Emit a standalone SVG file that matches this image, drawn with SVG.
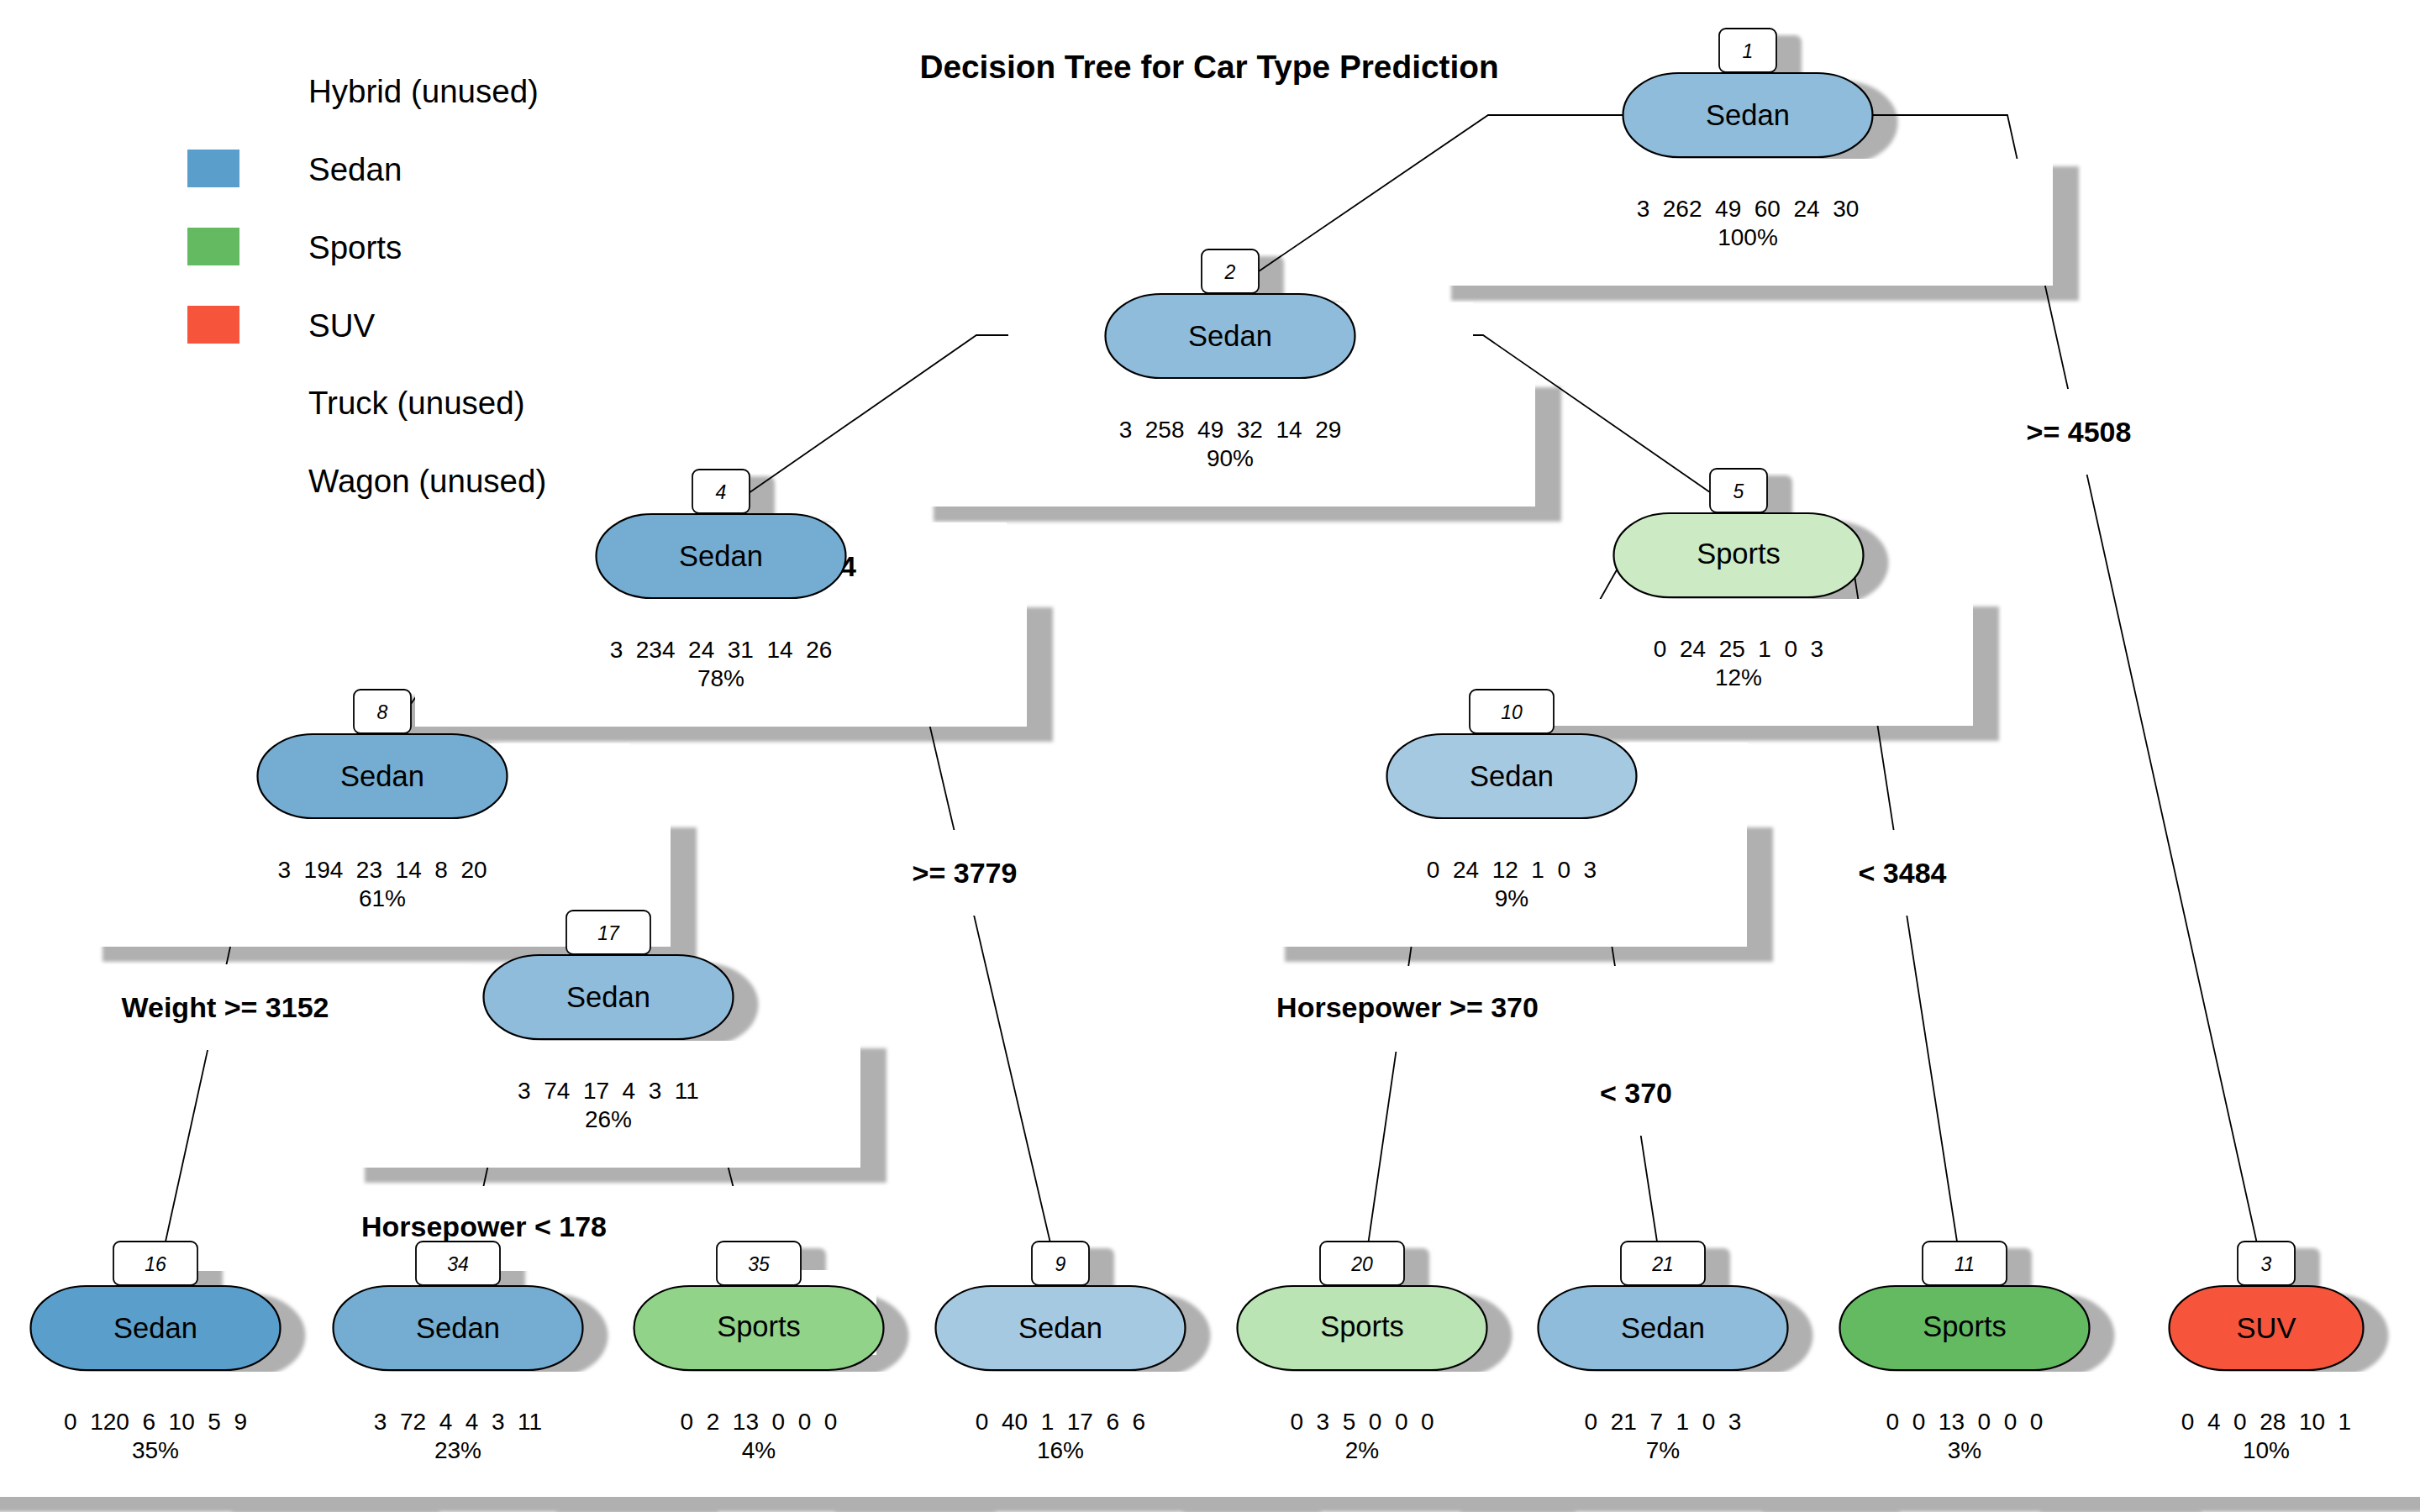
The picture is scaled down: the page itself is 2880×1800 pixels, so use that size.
<svg xmlns="http://www.w3.org/2000/svg" width="2880" height="1800" viewBox="0 0 2880 1800">
<defs>
<filter id="blur" x="-5%" y="-5%" width="110%" height="115%"><feGaussianBlur stdDeviation="2.2"/></filter>
<style>
text{font-family:"Liberation Sans",Arial,Helvetica,sans-serif;fill:#000}
.pill{stroke:#000;stroke-width:2.2}
.nbox{fill:#fff;stroke:#000;stroke-width:1.8}
.sh{fill:#b0b0b0;filter:url(#blur)}
.wb{fill:#fff}
.cn{fill:none;stroke:#000;stroke-width:1.8}
.lbl{font-size:34.5px;text-anchor:middle}
.num{font-size:23px;font-style:italic;text-anchor:middle}
.st{font-size:28px;text-anchor:middle;white-space:pre}
.sp{font-size:34px;font-weight:bold;text-anchor:middle}
.lg{font-size:38.5px}
.title{font-size:38.8px;font-weight:bold;text-anchor:middle}
</style>
</defs>
<rect x="0" y="0" width="2880" height="1800" fill="#fff"/>

<text class="title" x="1439" y="93">Decision Tree for Car Type Prediction</text>

<g id="legend">
<text class="lg" x="367" y="122">Hybrid (unused)</text>
<rect x="223" y="178" width="62" height="45" fill="#5A9FCB"/>
<text class="lg" x="367" y="215">Sedan</text>
<rect x="223" y="271" width="62" height="45" fill="#63BA61"/>
<text class="lg" x="367" y="308">Sports</text>
<rect x="223" y="364" width="62" height="45" fill="#F6553C"/>
<text class="lg" x="367" y="401">SUV</text>
<text class="lg" x="367" y="493">Truck (unused)</text>
<text class="lg" x="367" y="586">Wagon (unused)</text>
</g>

<g id="shadows">
<rect class="sh" x="1961.5" y="96" width="297" height="100" rx="66" ry="50"/>
<rect class="sh" x="2076" y="42" width="68" height="52" rx="8"/>
<rect class="sh" x="1345.5" y="359" width="297" height="100" rx="66" ry="50"/>
<rect class="sh" x="1460" y="305" width="68" height="52" rx="8"/>
<rect class="sh" x="739.5" y="621" width="297" height="100" rx="66" ry="50"/>
<rect class="sh" x="854" y="567" width="68" height="52" rx="8"/>
<rect class="sh" x="1950.5" y="620" width="297" height="100" rx="66" ry="50"/>
<rect class="sh" x="2065" y="566" width="68" height="52" rx="8"/>
<rect class="sh" x="336.5" y="883" width="297" height="100" rx="66" ry="50"/>
<rect class="sh" x="451" y="829" width="68" height="52" rx="8"/>
<rect class="sh" x="1680.5" y="883" width="297" height="100" rx="66" ry="50"/>
<rect class="sh" x="1779" y="829" width="100" height="52" rx="8"/>
<rect class="sh" x="605.5" y="1146" width="297" height="100" rx="66" ry="50"/>
<rect class="sh" x="704" y="1092" width="100" height="52" rx="8"/>
<rect class="sh" x="66.5" y="1540" width="297" height="100" rx="66" ry="50"/>
<rect class="sh" x="165" y="1486" width="100" height="52" rx="8"/>
<rect class="sh" x="426.5" y="1540" width="297" height="100" rx="66" ry="50"/>
<rect class="sh" x="525" y="1486" width="100" height="52" rx="8"/>
<rect class="sh" x="784.5" y="1540" width="297" height="100" rx="66" ry="50"/>
<rect class="sh" x="883" y="1486" width="100" height="52" rx="8"/>
<rect class="sh" x="1143.5" y="1540" width="297" height="100" rx="66" ry="50"/>
<rect class="sh" x="1258" y="1486" width="68" height="52" rx="8"/>
<rect class="sh" x="1502.5" y="1540" width="297" height="100" rx="66" ry="50"/>
<rect class="sh" x="1601" y="1486" width="100" height="52" rx="8"/>
<rect class="sh" x="1860.5" y="1540" width="297" height="100" rx="66" ry="50"/>
<rect class="sh" x="1959" y="1486" width="100" height="52" rx="8"/>
<rect class="sh" x="2219.5" y="1540" width="297" height="100" rx="66" ry="50"/>
<rect class="sh" x="2318" y="1486" width="100" height="52" rx="8"/>
<rect class="sh" x="2611.5" y="1540" width="231" height="100" rx="66" ry="50"/>
<rect class="sh" x="2693" y="1486" width="68" height="52" rx="8"/>
<rect class="sh" x="1727" y="198" width="747" height="160"/>
<rect class="sh" x="1111" y="461" width="747" height="160"/>
<rect class="sh" x="504" y="723" width="749" height="160"/>
<rect class="sh" x="1800" y="722" width="579" height="160"/>
<rect class="sh" x="122" y="985" width="707" height="160"/>
<rect class="sh" x="1529" y="985" width="581" height="160"/>
<rect class="sh" x="434" y="1248" width="621" height="160"/>
<rect class="sh" x="-112" y="1642" width="635" height="158"/>
<rect class="sh" x="276" y="1642" width="579" height="158"/>
<rect class="sh" x="662" y="1642" width="523" height="158"/>
<rect class="sh" x="993" y="1642" width="579" height="158"/>
<rect class="sh" x="1408" y="1642" width="467" height="158"/>
<rect class="sh" x="1738" y="1642" width="523" height="158"/>
<rect class="sh" x="2097" y="1642" width="523" height="158"/>
<rect class="sh" x="2428" y="1642" width="579" height="158"/>
</g>

<g id="connectors">
<polyline class="cn" points="1932,137 1771,137 1498,323"/>
<polyline class="cn" points="2229,137 2389,137 2685.5,1478"/>
<polyline class="cn" points="1315,399 1162,399 891,587"/>
<polyline class="cn" points="1612,399 1765,399 2035,586"/>
<line class="cn" x1="560" y1="739" x2="489" y2="838"/>
<line class="cn" x1="1073" y1="720" x2="1249.6" y2="1478"/>
<line class="cn" x1="1926" y1="675" x2="1843" y2="822"/>
<line class="cn" x1="2203" y1="659" x2="2329" y2="1478"/>
<line class="cn" x1="302" y1="1000" x2="197" y2="1478"/>
<line class="cn" x1="1698" y1="1000" x2="1628.6" y2="1478"/>
<line class="cn" x1="1899" y1="1000" x2="1972" y2="1478"/>
<line class="cn" x1="600" y1="1300" x2="561" y2="1478"/>
<line class="cn" x1="844" y1="1300" x2="889" y2="1478"/>
</g>

<g id="label-boxes">
<rect class="wb" x="1200" y="360" width="553" height="92"/>
<rect class="wb" x="518" y="622" width="680" height="102"/>
<rect class="wb" x="160" y="885" width="590" height="91"/>
<rect class="wb" x="1520" y="884" width="560" height="92"/>
<rect class="wb" x="740" y="1512" width="303" height="101"/>
<rect class="wb" x="2300" y="463" width="350" height="102"/>
<rect class="wb" x="2120" y="988" width="290" height="102"/>
<rect class="wb" x="900" y="988" width="500" height="102"/>
<rect class="wb" x="100" y="1148" width="460" height="102"/>
<rect class="wb" x="1395" y="1150" width="560" height="102"/>
<rect class="wb" x="1720" y="1251" width="455" height="101"/>
<rect class="wb" x="222" y="1412" width="723" height="101"/>
</g>

<g id="stats-boxes">
<rect class="wb" x="1717" y="189" width="726" height="151"/>
<rect class="wb" x="1101" y="452" width="726" height="151"/>
<rect class="wb" x="494" y="714" width="728" height="151"/>
<rect class="wb" x="1790" y="713" width="558" height="151"/>
<rect class="wb" x="112" y="976" width="686" height="151"/>
<rect class="wb" x="1519" y="976" width="560" height="151"/>
<rect class="wb" x="424" y="1239" width="600" height="151"/>
<rect class="wb" x="-122" y="1633" width="614" height="149"/>
<rect class="wb" x="266" y="1633" width="558" height="149"/>
<rect class="wb" x="652" y="1633" width="502" height="149"/>
<rect class="wb" x="983" y="1633" width="558" height="149"/>
<rect class="wb" x="1398" y="1633" width="446" height="149"/>
<rect class="wb" x="1728" y="1633" width="502" height="149"/>
<rect class="wb" x="2087" y="1633" width="502" height="149"/>
<rect class="wb" x="2418" y="1633" width="558" height="149"/>
</g>

<g id="split-labels">
<text class="sp" x="2474" y="526">&gt;= 4508</text>
<text class="sp" x="2264" y="1051">&lt; 3484</text>
<text class="sp" x="1148" y="1051">&gt;= 3779</text>
<text class="sp" x="268" y="1211">Weight &gt;= 3152</text>
<text class="sp" x="1675" y="1211">Horsepower &gt;= 370</text>
<text class="sp" x="1947" y="1313">&lt; 370</text>
<text class="sp" x="576" y="1472">Horsepower &lt; 178</text>
<text class="sp" x="1019" y="686" style="text-anchor:end">4</text>
</g>

<g id="node-1">
<rect class="pill" x="1931.5" y="87" width="297" height="100" rx="66" ry="50" fill="#8FBCDB"/>
<rect class="nbox" x="2046" y="34" width="68" height="52" rx="8"/>
<text class="num" x="2080" y="68.5">1</text>
<text class="lbl" x="2080" y="149">Sedan</text>
<text class="st" x="2080" y="258" xml:space="preserve">3  262  49  60  24  30</text>
<text class="st" x="2080" y="292">100%</text>
</g>
<g id="node-2">
<rect class="pill" x="1315.5" y="350" width="297" height="100" rx="66" ry="50" fill="#8FBCDB"/>
<rect class="nbox" x="1430" y="297" width="68" height="52" rx="8"/>
<text class="num" x="1464" y="331.5">2</text>
<text class="lbl" x="1464" y="412">Sedan</text>
<text class="st" x="1464" y="521" xml:space="preserve">3  258  49  32  14  29</text>
<text class="st" x="1464" y="555">90%</text>
</g>
<g id="node-4">
<rect class="pill" x="709.5" y="612" width="297" height="100" rx="66" ry="50" fill="#74ADD1"/>
<rect class="nbox" x="824" y="559" width="68" height="52" rx="8"/>
<text class="num" x="858" y="593.5">4</text>
<text class="lbl" x="858" y="674">Sedan</text>
<text class="st" x="858" y="783" xml:space="preserve">3  234  24  31  14  26</text>
<text class="st" x="858" y="817">78%</text>
</g>
<g id="node-5">
<rect class="pill" x="1920.5" y="611" width="297" height="100" rx="66" ry="50" fill="#CCEBC5"/>
<rect class="nbox" x="2035" y="558" width="68" height="52" rx="8"/>
<text class="num" x="2069" y="592.5">5</text>
<text class="lbl" x="2069" y="671">Sports</text>
<text class="st" x="2069" y="782" xml:space="preserve">0  24  25  1  0  3</text>
<text class="st" x="2069" y="816">12%</text>
</g>
<g id="node-8">
<rect class="pill" x="306.5" y="874" width="297" height="100" rx="66" ry="50" fill="#74ADD1"/>
<rect class="nbox" x="421" y="821" width="68" height="52" rx="8"/>
<text class="num" x="455" y="855.5">8</text>
<text class="lbl" x="455" y="936">Sedan</text>
<text class="st" x="455" y="1045" xml:space="preserve">3  194  23  14  8  20</text>
<text class="st" x="455" y="1079">61%</text>
</g>
<g id="node-10">
<rect class="pill" x="1650.5" y="874" width="297" height="100" rx="66" ry="50" fill="#A6C9E2"/>
<rect class="nbox" x="1749" y="821" width="100" height="52" rx="8"/>
<text class="num" x="1799" y="855.5">10</text>
<text class="lbl" x="1799" y="936">Sedan</text>
<text class="st" x="1799" y="1045" xml:space="preserve">0  24  12  1  0  3</text>
<text class="st" x="1799" y="1079">9%</text>
</g>
<g id="node-17">
<rect class="pill" x="575.5" y="1137" width="297" height="100" rx="66" ry="50" fill="#8FBCDB"/>
<rect class="nbox" x="674" y="1084" width="100" height="52" rx="8"/>
<text class="num" x="724" y="1118.5">17</text>
<text class="lbl" x="724" y="1199">Sedan</text>
<text class="st" x="724" y="1308" xml:space="preserve">3  74  17  4  3  11</text>
<text class="st" x="724" y="1342">26%</text>
</g>
<g id="node-16">
<rect class="pill" x="36.5" y="1531" width="297" height="100" rx="66" ry="50" fill="#5A9FCB"/>
<rect class="nbox" x="135" y="1478" width="100" height="52" rx="8"/>
<text class="num" x="185" y="1512.5">16</text>
<text class="lbl" x="185" y="1593">Sedan</text>
<text class="st" x="185" y="1702" xml:space="preserve">0  120  6  10  5  9</text>
<text class="st" x="185" y="1736">35%</text>
</g>
<g id="node-34">
<rect class="pill" x="396.5" y="1531" width="297" height="100" rx="66" ry="50" fill="#74ADD1"/>
<rect class="nbox" x="495" y="1478" width="100" height="52" rx="8"/>
<text class="num" x="545" y="1512.5">34</text>
<text class="lbl" x="545" y="1593">Sedan</text>
<text class="st" x="545" y="1702" xml:space="preserve">3  72  4  4  3  11</text>
<text class="st" x="545" y="1736">23%</text>
</g>
<g id="node-35">
<rect class="pill" x="754.5" y="1531" width="297" height="100" rx="66" ry="50" fill="#91D388"/>
<rect class="nbox" x="853" y="1478" width="100" height="52" rx="8"/>
<text class="num" x="903" y="1512.5">35</text>
<text class="lbl" x="903" y="1591">Sports</text>
<text class="st" x="903" y="1702" xml:space="preserve">0  2  13  0  0  0</text>
<text class="st" x="903" y="1736">4%</text>
</g>
<g id="node-9">
<rect class="pill" x="1113.5" y="1531" width="297" height="100" rx="66" ry="50" fill="#A6C9E2"/>
<rect class="nbox" x="1228" y="1478" width="68" height="52" rx="8"/>
<text class="num" x="1262" y="1512.5">9</text>
<text class="lbl" x="1262" y="1593">Sedan</text>
<text class="st" x="1262" y="1702" xml:space="preserve">0  40  1  17  6  6</text>
<text class="st" x="1262" y="1736">16%</text>
</g>
<g id="node-20">
<rect class="pill" x="1472.5" y="1531" width="297" height="100" rx="66" ry="50" fill="#BAE4B3"/>
<rect class="nbox" x="1571" y="1478" width="100" height="52" rx="8"/>
<text class="num" x="1621" y="1512.5">20</text>
<text class="lbl" x="1621" y="1591">Sports</text>
<text class="st" x="1621" y="1702" xml:space="preserve">0  3  5  0  0  0</text>
<text class="st" x="1621" y="1736">2%</text>
</g>
<g id="node-21">
<rect class="pill" x="1830.5" y="1531" width="297" height="100" rx="66" ry="50" fill="#8FBCDB"/>
<rect class="nbox" x="1929" y="1478" width="100" height="52" rx="8"/>
<text class="num" x="1979" y="1512.5">21</text>
<text class="lbl" x="1979" y="1593">Sedan</text>
<text class="st" x="1979" y="1702" xml:space="preserve">0  21  7  1  0  3</text>
<text class="st" x="1979" y="1736">7%</text>
</g>
<g id="node-11">
<rect class="pill" x="2189.5" y="1531" width="297" height="100" rx="66" ry="50" fill="#63BA61"/>
<rect class="nbox" x="2288" y="1478" width="100" height="52" rx="8"/>
<text class="num" x="2338" y="1512.5">11</text>
<text class="lbl" x="2338" y="1591">Sports</text>
<text class="st" x="2338" y="1702" xml:space="preserve">0  0  13  0  0  0</text>
<text class="st" x="2338" y="1736">3%</text>
</g>
<g id="node-3">
<rect class="pill" x="2581.5" y="1531" width="231" height="100" rx="66" ry="50" fill="#F6553C"/>
<rect class="nbox" x="2663" y="1478" width="68" height="52" rx="8"/>
<text class="num" x="2697" y="1512.5">3</text>
<text class="lbl" x="2697" y="1593">SUV</text>
<text class="st" x="2697" y="1702" xml:space="preserve">0  4  0  28  10  1</text>
<text class="st" x="2697" y="1736">10%</text>
</g>
</svg>
